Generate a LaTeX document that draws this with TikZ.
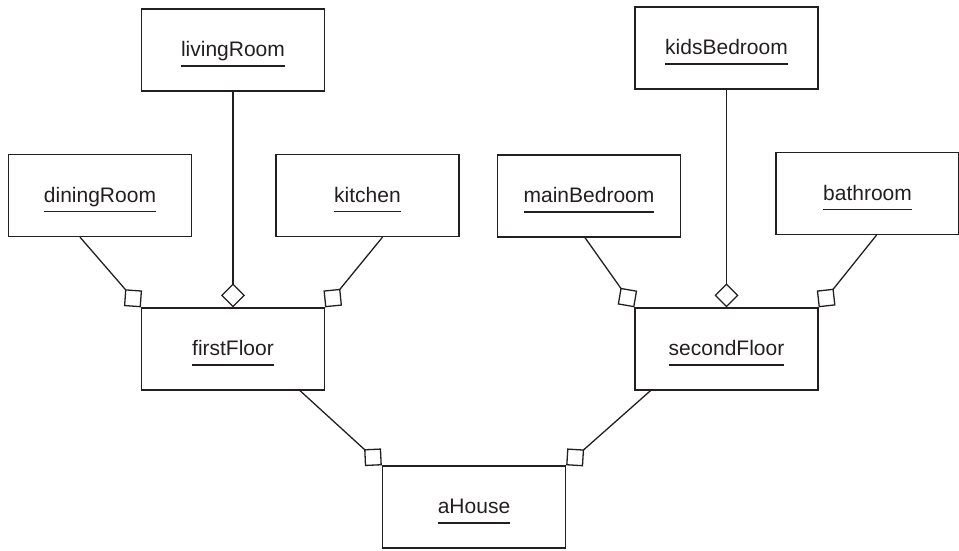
\documentclass[tikz,border=0pt]{standalone}
\usepackage{fontspec}
\setmainfont{Liberation Sans}
\usetikzlibrary{arrows.meta,calc}
\definecolor{ink}{HTML}{231F20}
\newcommand\ulab[1]{\sbox0{#1}\rlap{\usebox0}\rule[-10pt]{\wd0}{1.4pt}}
\begin{document}
\begin{tikzpicture}[x=1pt,y=-1pt,
  obj/.style={draw=ink, line width=1.3pt, minimum width=183pt, minimum height=82pt, inner sep=0pt},
  lbl/.style={anchor=base, inner sep=0pt, text=ink, font=\fontsize{21}{25}\selectfont},
  agg/.style={draw=ink, line width=1.3pt, -{Diamond[open,length=24pt,width=24pt]}}]
\useasboundingbox (0,0) rectangle (959,550);
% boxes
\node[obj] (living) at (233,50) {};
\node[obj] (dining) at (100,195.5) {};
\node[obj] (kitchen) at (367.5,195.5) {};
\node[obj] (first) at (233,349) {};
\node[obj] (kids) at (726.5,48) {};
\node[obj] (main) at (589,196) {};
\node[obj] (bath) at (867.5,193.5) {};
\node[obj] (second) at (726.5,349) {};
\node[obj] (house) at (474,507) {};
% labels
\node[lbl] (livingL) at ($(living.center)+(0,6.5)$) {\ulab{livingRoom}};
\node[lbl] (diningL) at ($(dining.center)+(0,6.5)$) {\ulab{diningRoom}};
\node[lbl] (kitchenL) at ($(kitchen.center)+(0,6.5)$) {\ulab{kitchen}};
\node[lbl] (firstL) at ($(first.center)+(0,6.5)$) {\ulab{firstFloor}};
\node[lbl] (kidsL) at ($(kids.center)+(0,6.5)$) {\ulab{kidsBedroom}};
\node[lbl] (mainL) at ($(main.center)+(0,6.5)$) {\ulab{mainBedroom}};
\node[lbl] (bathL) at ($(bath.center)+(0,6.5)$) {\ulab{bathroom}};
\node[lbl] (secondL) at ($(second.center)+(0,6.5)$) {\ulab{secondFloor}};
\node[lbl] (houseL) at ($(house.center)+(0,6.5)$) {\ulab{aHouse}};
% connectors
\draw[agg] ($(dining.south)+(-20,0)$) -- (first.north west);
\draw[agg] (living.south) -- (first.north);
\draw[agg] ($(kitchen.south)+(15,0)$) -- (first.north east);
\draw[agg] ($(main.south)+(-4,0)$) -- (second.north west);
\draw[agg] (kids.south) -- (second.north);
\draw[agg] ($(bath.south)+(9,0)$) -- (second.north east);
\draw[agg] ($(first.south)+(67,0)$) -- (house.north west);
\draw[agg] ($(second.south)+(-76,0)$) -- (house.north east);
\end{tikzpicture}
\end{document}
